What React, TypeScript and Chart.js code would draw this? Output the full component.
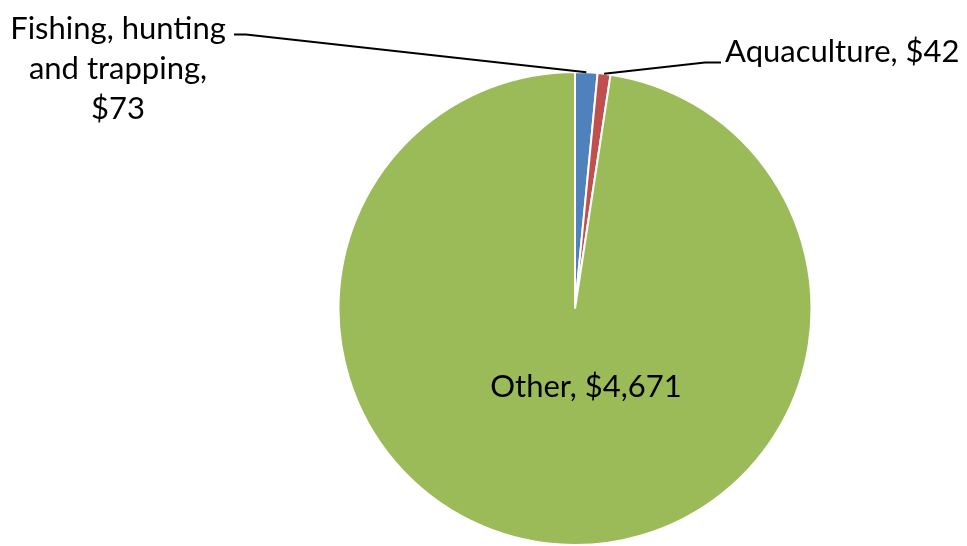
import React, { useEffect, useRef } from "react";
import { Chart, registerables } from "chart.js";

Chart.register(...registerables);

const categories = ["Fishing, hunting and trapping", "Aquaculture", "Other"];
const values = [73, 42, 4671];
const valueLabels = ["$73", "$42", "$4,671"];
const colors = ["#4F81BD", "#C0504D", "#9BBB59"];

const FONT = "31px Lato";

const labelPlugin = {
  id: "pieLabels",
  afterDatasetsDraw(chart: any) {
    const ctx = chart.ctx;
    const meta = chart.getDatasetMeta(0);
    const arcs = meta.data;
    if (!arcs.length) return;
    const cx = arcs[0].x;
    const cy = arcs[0].y;
    const mid = (a: any) => {
      const ang = (a.startAngle + a.endAngle) / 2;
      return { x: cx + Math.cos(ang) * a.outerRadius, y: cy + Math.sin(ang) * a.outerRadius };
    };
    ctx.save();
    ctx.font = FONT;
    ctx.fillStyle = "#000";
    ctx.strokeStyle = "#000";
    ctx.lineWidth = 2;

    // Fishing label (left, three lines)
    const p0 = mid(arcs[0]);
    const lx = cx - 457;
    const startX = cx - 341;
    const startY = cy - 274;
    ctx.beginPath();
    ctx.moveTo(startX, startY);
    ctx.lineTo(startX + 12, startY);
    ctx.lineTo(p0.x, p0.y);
    ctx.stroke();
    ctx.textAlign = "center";
    ctx.textBaseline = "alphabetic";
    const lines = ["Fishing, hunting", "and trapping,", valueLabels[0]];
    lines.forEach((t, i) => ctx.fillText(t, lx, cy - 270 + i * 40));

    // Aquaculture label (right)
    const p1 = mid(arcs[1]);
    const ax = cx + 145;
    const ay = cy - 246;
    ctx.beginPath();
    ctx.moveTo(p1.x, p1.y);
    ctx.lineTo(ax - 15, ay);
    ctx.lineTo(ax + 1, ay);
    ctx.stroke();
    ctx.textAlign = "left";
    ctx.fillText(categories[1] + ", " + valueLabels[1], ax + 5, ay - 1);

    // Other label (inside)
    ctx.textAlign = "center";
    ctx.fillText(categories[2] + ", " + valueLabels[2], cx + 11, cy + 88);
    ctx.restore();
  },
};

export default function App() {
  const ref = useRef<HTMLCanvasElement>(null);
  useEffect(() => {
    const chart = new Chart(ref.current as HTMLCanvasElement, {
      type: "pie",
      data: {
        labels: categories,
        datasets: [
          {
            data: values,
            backgroundColor: colors,
            borderColor: "#FFFFFF",
            borderWidth: 2,
          },
        ],
      },
      options: {
        responsive: false,
        animation: false,
        layout: { padding: { left: 337, right: 154, top: 71, bottom: -1 } },
        plugins: {
          legend: { display: false },
          tooltip: { enabled: false },
          title: { display: false },
        },
      },
      plugins: [labelPlugin],
    });
    return () => chart.destroy();
  }, []);
  return (
    <div style={{ position: "absolute", left: 0, top: 0, width: 967, height: 546, background: "#fff" }}>
      <canvas ref={ref} width={967} height={546} />
    </div>
  );
}
